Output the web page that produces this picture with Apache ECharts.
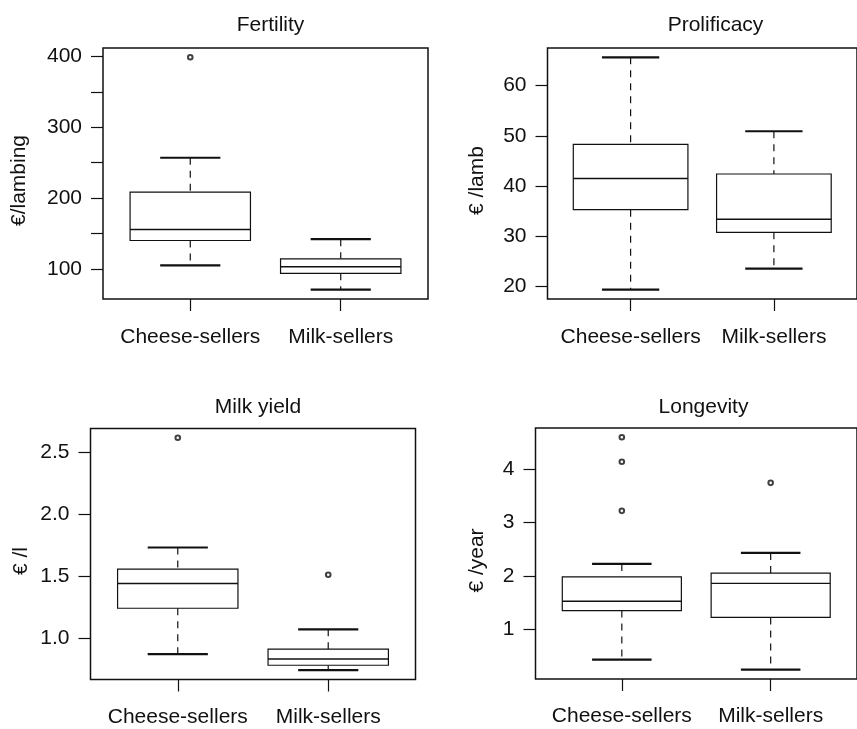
<!DOCTYPE html>
<html><head><meta charset="utf-8">
<script src="https://cdn.jsdelivr.net/npm/echarts@6/dist/echarts.min.js"></script>
<style>html,body{margin:0;padding:0;background:#fff}#c{width:857px;height:729px}</style>
</head><body><div id="c"></div>
<script>
// ---- data ----
const categories = ['Cheese-sellers', 'Milk-sellers'];
const panelTitles = ['Fertility', 'Prolificacy', 'Milk yield', 'Longevity'];
const yNames = ['€/lambing', '€ /lamb', '€ /l', '€ /year'];

// five-number summaries per category: [lower whisker, Q1, median, Q3, upper whisker]
const fertilityBoxes   = [[104.8, 140, 155.5, 208.5, 257], [70.4, 93.5, 102.8, 114, 141.8]];
const prolificacyBoxes = [[19.4, 35.3, 41.5, 48.3, 65.6], [23.6, 30.8, 33.4, 42.4, 50.9]];
const milkYieldBoxes   = [[0.87, 1.24, 1.44, 1.555, 1.73], [0.74, 0.78, 0.83, 0.91, 1.07]];
const longevityBoxes   = [[0.43, 1.35, 1.525, 1.98, 2.225], [0.24, 1.22, 1.86, 2.05, 2.43]];

// outliers per category
const fertilityOutliers   = [[399], []];
const prolificacyOutliers = [[], []];
const milkYieldOutliers   = [[2.615], [1.51]];
const longevityOutliers   = [[3.22, 4.14, 4.6], [3.745]];

// y-axis ticks and labels
const fertilityTicks = [100, 150, 200, 250, 300, 350, 400];
const fertilityTickLabels = [100, 200, 300, 400];
const prolificacyTicks = [20, 30, 40, 50, 60];
const milkYieldTicks = [1.0, 1.5, 2.0, 2.5];
const longevityTicks = [1, 2, 3, 4];

const panels = [
  { boxes: fertilityBoxes, outliers: fertilityOutliers, ticks: fertilityTicks, labels: fertilityTickLabels, dec: 0 },
  { boxes: prolificacyBoxes, outliers: prolificacyOutliers, ticks: prolificacyTicks, labels: prolificacyTicks, dec: 0 },
  { boxes: milkYieldBoxes, outliers: milkYieldOutliers, ticks: milkYieldTicks, labels: milkYieldTicks, dec: 1 },
  { boxes: longevityBoxes, outliers: longevityOutliers, ticks: longevityTicks, labels: longevityTicks, dec: 0 }
];

// ---- layout (positions only) ----
const layout = [
  { left: 103,   top: 48,    width: 325, height: 251, nameGap: 73, labelMargin: 28, titleTop: 10 },
  { left: 547.5, top: 48,    width: 326, height: 251, nameGap: 60, labelMargin: 28, titleTop: 10 },
  { left: 90.5,  top: 428.5, width: 325, height: 251, nameGap: 59, labelMargin: 27, titleTop: 392 },
  { left: 535.5, top: 428,   width: 326, height: 251, nameGap: 48, labelMargin: 27, titleTop: 392 }
];

const FONT = 'Liberation Sans, Arial, Helvetica, sans-serif';
const FS = 21;
const INK = '#111';

function renderBox(params, api) {
  const x = api.value(0);
  const lo = api.value(1), q1 = api.value(2), med = api.value(3), q3 = api.value(4), hi = api.value(5);
  const bh = 0.4, ch = 0.2;
  const tl = api.coord([x - bh, q3]), br = api.coord([x + bh, q1]);
  const mL = api.coord([x - bh, med]), mR = api.coord([x + bh, med]);
  const top = api.coord([x, hi]), q3c = api.coord([x, q3]);
  const bot = api.coord([x, lo]), q1c = api.coord([x, q1]);
  const cTL = api.coord([x - ch, hi]), cTR = api.coord([x + ch, hi]);
  const cBL = api.coord([x - ch, lo]), cBR = api.coord([x + ch, lo]);
  const dashed = { stroke: INK, lineWidth: 1.2, lineDash: [7, 6] };
  const cap = { stroke: INK, lineWidth: 2.2 };
  return {
    type: 'group',
    children: [
      { type: 'line', shape: { x1: top[0], y1: top[1], x2: q3c[0], y2: q3c[1] }, style: dashed },
      { type: 'line', shape: { x1: q1c[0], y1: q1c[1], x2: bot[0], y2: bot[1] }, style: dashed },
      { type: 'line', shape: { x1: cTL[0], y1: cTL[1], x2: cTR[0], y2: cTR[1] }, style: cap },
      { type: 'line', shape: { x1: cBL[0], y1: cBL[1], x2: cBR[0], y2: cBR[1] }, style: cap },
      { type: 'rect', shape: { x: tl[0], y: tl[1], width: br[0] - tl[0], height: br[1] - tl[1] }, style: { stroke: INK, lineWidth: 1.2, fill: '#fff' } },
      { type: 'line', shape: { x1: mL[0], y1: mL[1], x2: mR[0], y2: mR[1] }, style: { stroke: INK, lineWidth: 1.4 } }
    ]
  };
}

const option = { animation: false, backgroundColor: '#fff', title: [], grid: [], xAxis: [], yAxis: [], series: [] };

panels.forEach((p, i) => {
  const L = layout[i];
  let lo = Infinity, hi = -Infinity;
  p.boxes.forEach((b, c) => {
    lo = Math.min(lo, b[0]); hi = Math.max(hi, b[4]);
    p.outliers[c].forEach(v => { lo = Math.min(lo, v); hi = Math.max(hi, v); });
  });
  const pad = 0.04 * (hi - lo);

  option.title.push({
    text: panelTitles[i], left: L.left + L.width / 2, top: L.titleTop, textAlign: 'center',
    textStyle: { fontFamily: FONT, fontSize: FS, fontWeight: 'normal', color: INK }
  });
  option.grid.push({
    left: L.left, top: L.top, width: L.width, height: L.height,
    show: true, borderColor: INK, borderWidth: 1.5, backgroundColor: 'transparent', containLabel: false
  });
  option.xAxis.push({
    type: 'value', gridIndex: i, min: 0.42, max: categories.length + 0.58,
    axisLine: { show: false }, splitLine: { show: false },
    axisTick: { show: true, inside: false, length: 12, customValues: categories.map((_, k) => k + 1), lineStyle: { color: INK, width: 1.2 } },
    axisLabel: { show: true, margin: L.labelMargin, customValues: categories.map((_, k) => k + 1),
      formatter: v => categories[Math.round(v) - 1], fontFamily: FONT, fontSize: FS, color: INK }
  });
  option.yAxis.push({
    type: 'value', gridIndex: i, min: lo - pad, max: hi + pad,
    name: yNames[i], nameLocation: 'middle', nameRotate: 90, nameGap: L.nameGap,
    nameTextStyle: { fontFamily: FONT, fontSize: FS, color: INK, padding: [0, 14, 0, 0] },
    axisLine: { show: false }, splitLine: { show: false },
    axisTick: { show: true, inside: false, length: 12, customValues: p.ticks, lineStyle: { color: INK, width: 1.2 } },
    axisLabel: { show: true, margin: 21, customValues: p.labels,
      formatter: v => Number(v).toFixed(p.dec), fontFamily: FONT, fontSize: FS, color: INK }
  });
  option.series.push({
    type: 'custom', xAxisIndex: i, yAxisIndex: i, renderItem: renderBox,
    data: p.boxes.map((b, c) => [c + 1].concat(b)), encode: { x: 0, y: [1, 2, 3, 4, 5] }, z: 3
  });
  const out = [];
  p.outliers.forEach((arr, c) => arr.forEach(v => out.push([c + 1, v])));
  option.series.push({
    type: 'scatter', xAxisIndex: i, yAxisIndex: i, data: out,
    symbol: 'emptyCircle', symbolSize: 4.6, itemStyle: { color: INK, borderColor: INK, borderWidth: 1 }, z: 4
  });
});

const chart = echarts.init(document.getElementById('c'), null, { renderer: 'canvas' });
chart.setOption(option);
</script></body></html>
